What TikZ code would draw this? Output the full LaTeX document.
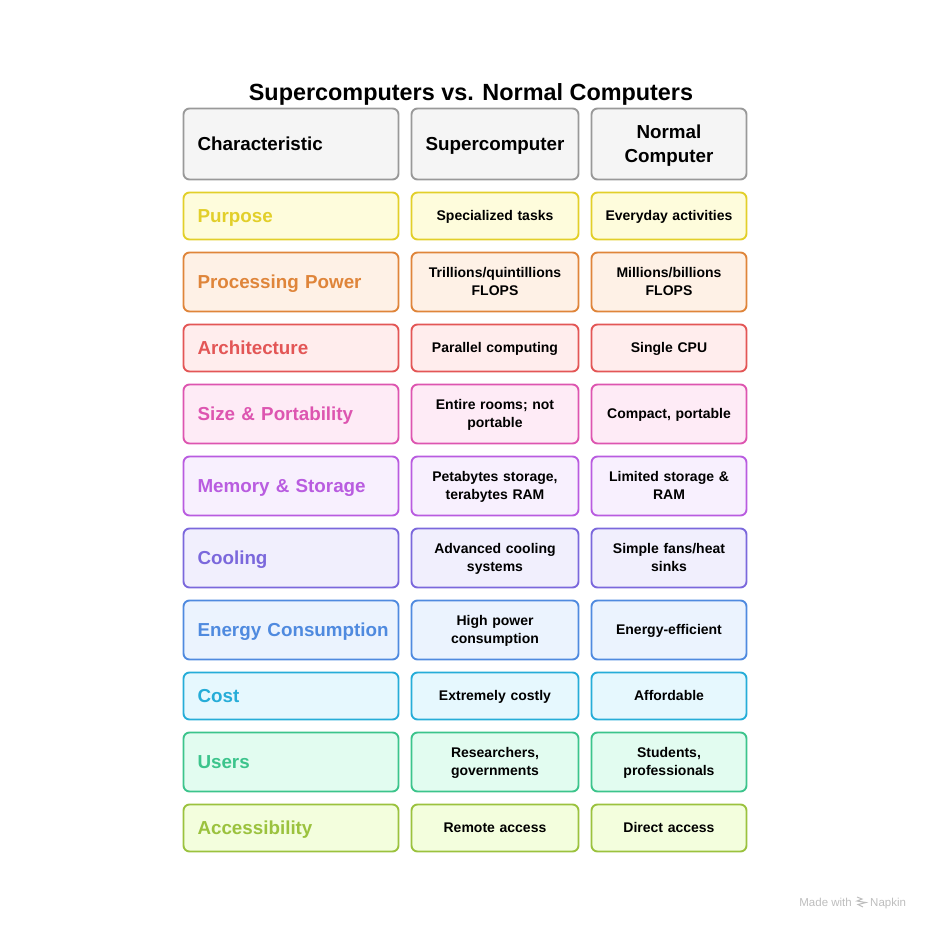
\documentclass[tikz,border=0pt]{standalone}
\usepackage{fontspec}
\setmainfont{Liberation Sans}
\definecolor{headline}{HTML}{999999}
\definecolor{headfill}{HTML}{F5F5F5}
\definecolor{purposeline}{HTML}{E2CF2A}
\definecolor{purposefill}{HTML}{FEFCDC}
\definecolor{powerline}{HTML}{DF853A}
\definecolor{powerfill}{HTML}{FEF1E6}
\definecolor{archline}{HTML}{E35656}
\definecolor{archfill}{HTML}{FFEDED}
\definecolor{sizeline}{HTML}{DD55B0}
\definecolor{sizefill}{HTML}{FEEBF6}
\definecolor{memoryline}{HTML}{B95CE0}
\definecolor{memoryfill}{HTML}{F8F0FE}
\definecolor{coolline}{HTML}{7B68DC}
\definecolor{coolfill}{HTML}{F1EFFD}
\definecolor{energyline}{HTML}{4F8ADF}
\definecolor{energyfill}{HTML}{EBF3FE}
\definecolor{costline}{HTML}{26ADD8}
\definecolor{costfill}{HTML}{E6F8FE}
\definecolor{userline}{HTML}{3CC48C}
\definecolor{userfill}{HTML}{E2FCF0}
\definecolor{accessline}{HTML}{9BC23E}
\definecolor{accessfill}{HTML}{F3FEDD}
\definecolor{markgray}{HTML}{BDBDBD}
\tikzset{
	cell/.style={draw=#1line,fill=#1fill,line width=1.9pt,rounded corners=6pt,inner sep=0pt,anchor=center,execute at begin node={\rule{0pt}{.77\baselineskip}},execute at end node={\rule[-.23\baselineskip]{0pt}{.23\baselineskip}}},
	namecell/.style={cell=#1,minimum width=215pt,text width=187pt,align=left,text=#1line,font=\fontsize{18.8}{24}\selectfont\bfseries},
	supercell/.style={cell=#1,minimum width=167pt,text width=160pt,align=center,font=\fontsize{14}{18}\selectfont\bfseries},
	normalcell/.style={cell=#1,minimum width=155pt,text width=148pt,align=center,font=\fontsize{14}{18}\selectfont\bfseries},
	tall/.style={minimum height=71pt},
	mid/.style={minimum height=59pt},
	low/.style={minimum height=47pt},
	headtext/.style={text=black,font=\fontsize{18.8}{24}\selectfont\bfseries},
	marktext/.style={text=markgray,inner sep=0pt,font=\fontsize{11.5}{14}\selectfont,execute at begin node=\strut}
}
\begin{document}
\begin{tikzpicture}[x=1pt,y=-1pt]
	\useasboundingbox (0,0) rectangle (930,930);

	\node (title) at (471,94) {\fontsize{23.4}{30}\selectfont\bfseries Supercomputers vs. Normal Computers};

	\node[namecell=head,tall,headtext] (chead) at (291,144) {Characteristic};
	\node[supercell=head,tall,headtext] (shead) at (495,144) {Supercomputer};
	\node[normalcell=head,tall,headtext] (nhead) at (669,144) {Normal\\Computer};

	\node[namecell=purpose,low] (cpurpose) at (291,216) {Purpose};
	\node[supercell=purpose,low] (spurpose) at (495,216) {Specialized tasks};
	\node[normalcell=purpose,low] (npurpose) at (669,216) {Everyday activities};

	\node[namecell=power,mid] (cpower) at (291,282) {Processing Power};
	\node[supercell=power,mid] (spower) at (495,282) {Trillions/quintillions\\FLOPS};
	\node[normalcell=power,mid] (npower) at (669,282) {Millions/billions\\FLOPS};

	\node[namecell=arch,low] (carch) at (291,348) {Architecture};
	\node[supercell=arch,low] (sarch) at (495,348) {Parallel computing};
	\node[normalcell=arch,low] (narch) at (669,348) {Single CPU};

	\node[namecell=size,mid] (csize) at (291,414) {Size \& Portability};
	\node[supercell=size,mid] (ssize) at (495,414) {Entire rooms; not\\portable};
	\node[normalcell=size,mid] (nsize) at (669,414) {Compact, portable};

	\node[namecell=memory,mid] (cmemory) at (291,486) {Memory \& Storage};
	\node[supercell=memory,mid] (smemory) at (495,486) {Petabytes storage,\\terabytes RAM};
	\node[normalcell=memory,mid] (nmemory) at (669,486) {Limited storage \&\\RAM};

	\node[namecell=cool,mid] (ccool) at (291,558) {Cooling};
	\node[supercell=cool,mid] (scool) at (495,558) {Advanced cooling\\systems};
	\node[normalcell=cool,mid] (ncool) at (669,558) {Simple fans/heat\\sinks};

	\node[namecell=energy,mid] (cenergy) at (291,630) {\mbox{Energy Consumption}};
	\node[supercell=energy,mid] (senergy) at (495,630) {High power\\consumption};
	\node[normalcell=energy,mid] (nenergy) at (669,630) {Energy-efficient};

	\node[namecell=cost,low] (ccost) at (291,696) {Cost};
	\node[supercell=cost,low] (scost) at (495,696) {Extremely costly};
	\node[normalcell=cost,low] (ncost) at (669,696) {Affordable};

	\node[namecell=user,mid] (cuser) at (291,762) {Users};
	\node[supercell=user,mid] (suser) at (495,762) {Researchers,\\governments};
	\node[normalcell=user,mid] (nuser) at (669,762) {Students,\\professionals};

	\node[namecell=access,low] (caccess) at (291,828) {Accessibility};
	\node[supercell=access,low] (saccess) at (495,828) {Remote access};
	\node[normalcell=access,low] (naccess) at (669,828) {Direct access};

	\node[marktext,anchor=east] (madewith) at (852,904) {Made with};
	\node[marktext,anchor=west] (napkin) at (870,904) {Napkin};
	\draw[markgray,line width=1pt] (857,897) -- (862,899) -- (857,901) -- (866,902.5) -- (858,904.5) -- (863,907);
\end{tikzpicture}
\end{document}
